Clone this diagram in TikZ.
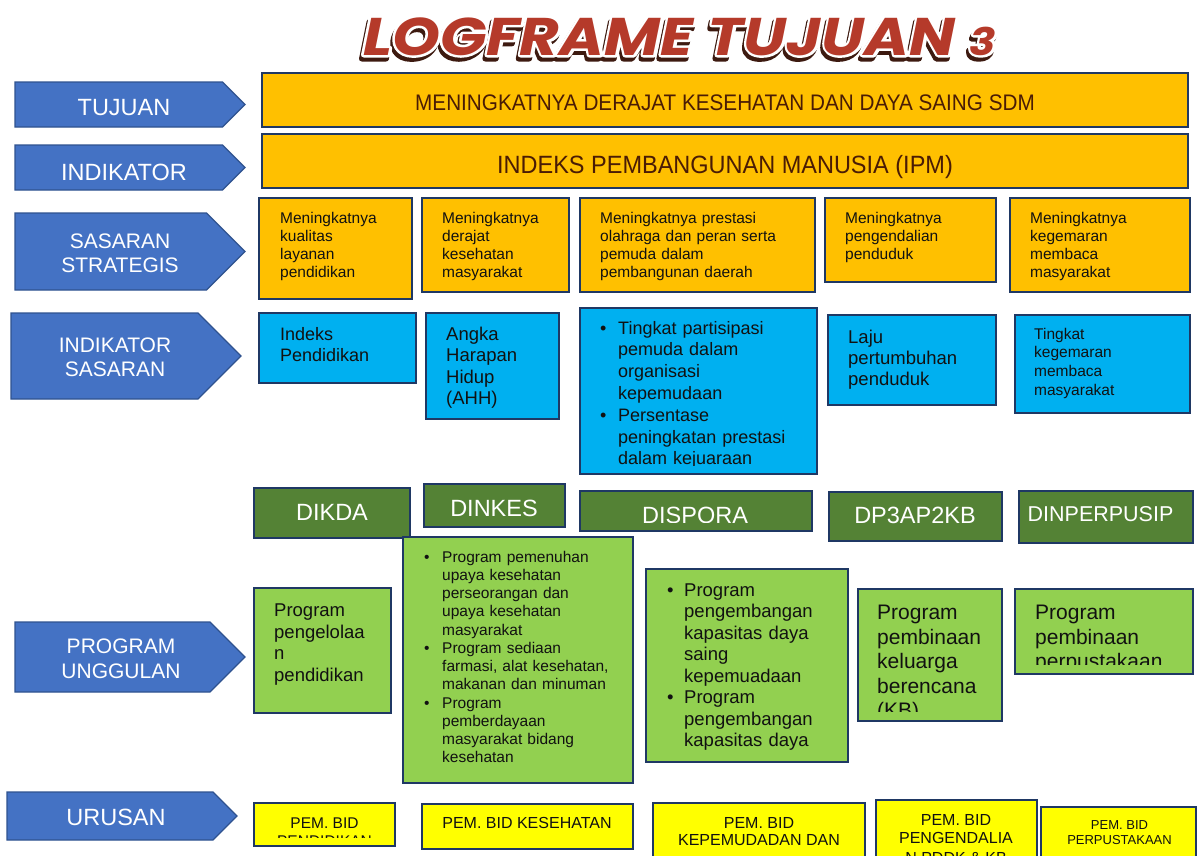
\documentclass[tikz,border=0pt]{standalone}
\usepackage{fontspec}
\setmainfont{Liberation Sans}
\newfontfamily\titlefont{Poppins}
\definecolor{arrowblue}{HTML}{4472C4}
\definecolor{arrowedge}{HTML}{2F528F}
\definecolor{gold}{HTML}{FFC000}
\definecolor{navy}{HTML}{1F3864}
\definecolor{sky}{HTML}{00B0F0}
\definecolor{dgreen}{HTML}{548235}
\definecolor{lgreen}{HTML}{92D050}
\definecolor{yel}{HTML}{FFFF00}
\definecolor{brownt}{HTML}{4A1C05}
\definecolor{bodyt}{HTML}{111111}
\definecolor{titlered}{HTML}{B53A2A}
\definecolor{titleshadow}{HTML}{3D1A10}
\tikzset{
  arrowsty/.style={fill=arrowblue, draw=arrowedge, line width=1.2pt, line join=miter},
  lbl/.style={text=white, inner sep=0pt, anchor=base, align=center},
  boxsty/.style={draw=navy, line width=2pt, inner sep=0pt, outer sep=0pt, anchor=north west},
  goldbox/.style={boxsty, fill=gold},
  skybox/.style={boxsty, fill=sky},
  dgbox/.style={boxsty, fill=dgreen},
  lgbox/.style={boxsty, fill=lgreen},
  ybox/.style={boxsty, fill=yel},
  tx/.style={inner sep=0pt, anchor=base west, align=left, text width=260pt, text=bodyt},
  ctx/.style={inner sep=0pt, anchor=base, align=center, text=bodyt},
  bul/.style={inner sep=0pt, anchor=base west, text=bodyt},
  titlesty/.style={inner sep=0pt, anchor=base west, font=\titlefont\bfseries\itshape\fontsize{53}{53}\selectfont},
}
\newcommand\mybox[6]{\node[#2, minimum width={#5-#3}, minimum height={#6-#4}] (#1) at (#3,#4) {};}
\newcommand\arrowshape[5]{%
  \pgfmathsetmacro\hh{(#5-#3)/2}%
  \draw[arrowsty] (#2,#3) -- ({#4-\hh},#3) -- (#4,{#3+\hh}) -- ({#4-\hh},#5) -- (#2,#5) -- cycle;%
  \coordinate (#1) at ({(#2+#4)/2},{#3+\hh});}
\newcommand\titletext{\scalebox{1.15}[1]{LOGFRAME TUJUAN {\fontsize{38}{38}\selectfont 3}}}
\newcommand\strokeset[2]{\special{pdf:literal direct #1 RG #2 w 1 j 2 Tr}}
\newcommand\strokeoff{\special{pdf:literal direct 0 Tr}}
\newcommand\fs[2]{\fontsize{#1}{#2}\selectfont}
\begin{document}
\begin{tikzpicture}[x=1pt, y=-1pt]
\useasboundingbox[fill=white] (0,0) rectangle (1198,855);

% title: shadow, white outline, red fill
\node[titlesty, text=titleshadow] (titleShadow) at (361,59) {\strokeset{0.239 0.102 0.063}{5}\titletext\strokeoff};
\node[titlesty, text=white] (titleOutline) at (363,55) {\strokeset{1 1 1}{5}\titletext\strokeoff};
\node[titlesty, text=titlered] (title) at (363,55) {\titletext};

% left arrows
\arrowshape{aTuj}{15}{82}{245}{127}
\arrowshape{aInd}{15}{145}{245}{190}
\arrowshape{aSas}{15}{213}{245}{290}
\arrowshape{aIndS}{11}{313}{241}{399}
\arrowshape{aProg}{15}{622}{245}{692}
\arrowshape{aUru}{7}{792}{237}{840}
\node[lbl, font=\fs{23.5}{25}] (lTuj) at (124,115.5) {TUJUAN};
\node[lbl, font=\fs{23.5}{25}] (lInd) at (124,180) {INDIKATOR};
\node[lbl, font=\fs{21}{24}] (lSas) at (120,272) {SASARAN\\STRATEGIS};
\node[lbl, font=\fs{21}{24}] (lIndS) at (115,376) {INDIKATOR\\SASARAN};
\node[lbl, font=\fs{21}{25}] (lProg) at (121,678) {PROGRAM\\UNGGULAN};
\node[lbl, font=\fs{23.5}{25}] (lUru) at (116,825) {URUSAN};

% tujuan / indikator
\mybox{tuj}{goldbox}{262}{73}{1188}{127}
\mybox{ind}{goldbox}{262}{134}{1188}{188}
\node[ctx, text=brownt, font=\fs{22.5}{24}] (tujT) at (725,110) {\scalebox{0.92}[1]{MENINGKATNYA DERAJAT KESEHATAN DAN DAYA SAING SDM}};
\node[ctx, text=brownt, font=\fs{25}{27}] (indT) at (725,173) {\scalebox{0.94}[1]{INDEKS PEMBANGUNAN MANUSIA (IPM)}};

% sasaran strategis
\mybox{s1}{goldbox}{259}{198}{412}{299}
\mybox{s2}{goldbox}{422}{198}{569}{292}
\mybox{s3}{goldbox}{580}{198}{815}{292}
\mybox{s4}{goldbox}{825}{198}{996}{282}
\mybox{s5}{goldbox}{1010}{198}{1190}{292}
\node[tx, font=\fs{15.5}{18.3}] (s1T) at (280,223) {Meningkatnya\\kualitas\\layanan\\pendidikan};
\node[tx, font=\fs{15.5}{18.3}] (s2T) at (442,223) {Meningkatnya\\derajat\\kesehatan\\masyarakat};
\node[tx, font=\fs{15.5}{18.3}] (s3T) at (600,223) {Meningkatnya prestasi\\olahraga dan peran serta\\pemuda dalam\\pembangunan daerah};
\node[tx, font=\fs{15.5}{18.3}] (s4T) at (845,223) {Meningkatnya\\pengendalian\\penduduk};
\node[tx, font=\fs{15.5}{18.3}] (s5T) at (1030,223) {Meningkatnya\\kegemaran\\membaca\\masyarakat};

% indikator sasaran
\mybox{b1}{skybox}{259}{313}{416}{383}
\mybox{b2}{skybox}{426}{313}{559}{419}
\mybox{b3}{skybox}{580}{308}{817}{474}
\mybox{b4}{skybox}{828}{315}{996}{405}
\mybox{b5}{skybox}{1015}{315}{1190}{413}
\node[tx, font=\fs{18}{21.7}] (b1T) at (280,340) {Indeks\\Pendidikan};
\node[tx, font=\fs{18.5}{21.5}] (b2T) at (446,340) {Angka\\Harapan\\Hidup\\(AHH)};
\node[bul, font=\fs{18}{21.8}] (b3B1) at (600,334) {•};
\node[bul, font=\fs{18}{21.8}] (b3B2) at (600,421.2) {•};
\begin{scope}
  \clip (580,300) rectangle (817,465.5);
  \node[tx, font=\fs{18}{21.8}] (b3T) at (618,334) {Tingkat partisipasi\\pemuda dalam\\organisasi\\kepemudaan\\Persentase\\peningkatan prestasi\\dalam kejuaraan};
\end{scope}
\node[tx, font=\fs{18.5}{21.2}] (b4T) at (848,343) {Laju\\pertumbuhan\\penduduk};
\node[tx, font=\fs{15.5}{18.7}] (b5T) at (1034,339) {Tingkat\\kegemaran\\membaca\\masyarakat};

% dinas
\mybox{d1}{dgbox}{254}{488}{410}{538}
\mybox{d2}{dgbox}{424}{484}{565}{527}
\mybox{d3}{dgbox}{580}{491}{812}{531}
\mybox{d4}{dgbox}{829}{492}{1002}{541}
\mybox{d5}{dgbox}{1019}{491}{1193}{543}
\node[lbl, font=\fs{23.5}{25}] (d1T) at (332,520.5) {DIKDA};
\node[lbl, font=\fs{23.5}{25}] (d2T) at (494,516.5) {DINKES};
\begin{scope}
  \clip (580,480) rectangle (812,522);
  \node[lbl, font=\fs{23.5}{25}, anchor=base west] (d3T) at (642,523) {DISPORA};
\end{scope}
\node[lbl, font=\fs{23.5}{25}] (d4T) at (915,523.3) {DP3AP2KB};
\node[lbl, font=\fs{21.5}{25}] (d5T) at (1100.5,521) {DINPERPUSIP};

% program unggulan
\mybox{g1}{lgbox}{254}{588}{391}{713}
\mybox{g2}{lgbox}{403}{537}{633}{783}
\mybox{g3}{lgbox}{646}{569}{848}{762}
\mybox{g4}{lgbox}{858}{589}{1002}{721}
\mybox{g5}{lgbox}{1015}{589}{1193}{674}
\node[tx, font=\fs{18.5}{21.7}] (g1T) at (274,616.5) {Program\\pengelolaa\\n\\pendidikan};
\node[bul, font=\fs{15.5}{18.25}] (g2B1) at (424,562) {•};
\node[bul, font=\fs{15.5}{18.25}] (g2B2) at (424,653.25) {•};
\node[bul, font=\fs{15.5}{18.25}] (g2B3) at (424,708) {•};
\node[tx, font=\fs{15.5}{18.25}] (g2T) at (442,562) {Program pemenuhan\\upaya kesehatan\\perseorangan dan\\upaya kesehatan\\masyarakat\\Program sediaan\\farmasi, alat kesehatan,\\makanan dan minuman\\Program\\pemberdayaan\\masyarakat bidang\\kesehatan};
\node[bul, font=\fs{18.5}{21.43}] (g3B1) at (667,596.5) {•};
\node[bul, font=\fs{18.5}{21.43}] (g3B2) at (667,703.65) {•};
\node[tx, font=\fs{18.5}{21.43}] (g3T) at (684,596.5) {Program\\pengembangan\\kapasitas daya\\saing\\kepemuadaan\\Program\\pengembangan\\kapasitas daya};
\begin{scope}
  \clip (858,589) rectangle (1002,711);
  \node[tx, font=\fs{21}{24.5}] (g4T) at (877,619.5) {Program\\pembinaan\\keluarga\\berencana\\(KB)};
\end{scope}
\begin{scope}
  \clip (1015,589) rectangle (1193,664.3);
  \node[tx, font=\fs{21}{24.5}] (g5T) at (1035,619.5) {Program\\pembinaan\\perpustakaan};
\end{scope}

% urusan
\mybox{u1}{ybox}{254}{803}{395}{846}
\mybox{u2}{ybox}{422}{804}{633}{849}
\mybox{u3}{ybox}{653}{803}{865}{875}
\mybox{u4}{ybox}{876}{800}{1037}{875}
\mybox{u5}{ybox}{1041}{807}{1196}{875}
\begin{scope}
  \clip (254,803) rectangle (395,837);
  \node[ctx, font=\fs{15.5}{17.7}] (u1T) at (324.5,846) {PEM. BID\\PENDIDIKAN};
\end{scope}
\node[ctx, font=\fs{16}{17.5}] (u2T) at (527,828.3) {PEM. BID KESEHATAN};
\node[ctx, font=\fs{16}{17.6}] (u3T) at (759,845.6) {PEM. BID\\KEPEMUDADAN DAN};
\begin{scope}
  \clip (876,800) rectangle (1037,855);
  \node[ctx, font=\fs{16}{17.3}] (u4T) at (956,863.5) {PEM. BID\\PENGENDALIA\\[3.2pt]N PDDK \& KB};
\end{scope}
\node[ctx, font=\fs{13}{15}] (u5T) at (1119.5,844.3) {PEM. BID\\PERPUSTAKAAN};
\end{tikzpicture}
\end{document}
